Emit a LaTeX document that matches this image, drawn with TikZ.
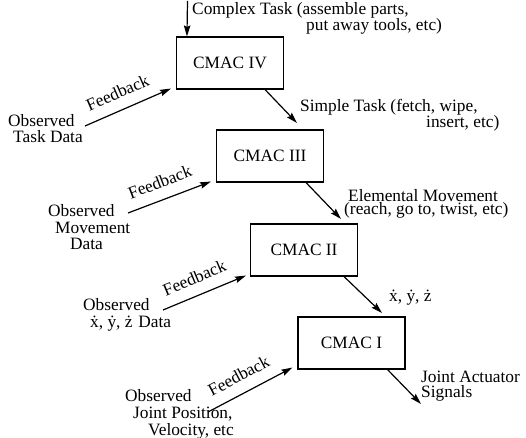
\documentclass[tikz,border=0pt]{standalone}
\usepackage{fontspec}
\setmainfont{Liberation Serif}
\usetikzlibrary{arrows.meta}
\begin{document}
\begin{tikzpicture}[x=1bp,y=-1bp,
  txt/.style={inner sep=0pt,align=left,font=\fontsize{17.4}{17}\selectfont},
  tight/.style={txt,font=\fontsize{17.4}{15}\selectfont},
  cmac/.style={draw,line width=1.1bp,minimum width=107bp,minimum height=52bp,
               inner sep=0pt,font=\fontsize{17.4}{17}\selectfont},
  arr/.style={line width=1.2bp,-{Stealth[length=11bp,width=6.5bp,inset=1.5bp]}},
  fb/.style={inner sep=0pt,font=\fontsize{17.4}{17}\selectfont,sloped,above=11bp,pos=0.46}]
\useasboundingbox (0,0) rectangle (526,438);

% controller hierarchy
\node[cmac] (iv)  at (230,63)    {CMAC IV};
\node[cmac] (iii) at (270,156)   {CMAC III};
\node[cmac] (ii)  at (304,250)   {CMAC II};
\node[cmac] (i)   at (351.5,343) {CMAC I};

% command inputs and outputs (text nodes are placed by the baseline of their last line)
\coordinate (cmdin) at (187.5,1);
\draw[arr] (cmdin) -- ([xshift=11bp]iv.north west);
\node[tight,anchor=base west] (cx) at (192,31)
  {Complex Task (assemble parts,\\\hspace*{114bp}put away tools, etc)};

\coordinate (simp) at (297,123);
\draw[arr] ([xshift=35bp]iv.south) -- (simp);
\node[tight,anchor=base west] (st) at (300,128)
  {Simple Task (fetch, wipe,\\\hspace*{126bp}insert, etc)};

\coordinate (elem) at (341,219);
\draw[arr] ([xshift=36bp]iii.south) -- (elem);
\node[txt,font=\fontsize{17.4}{14}\selectfont,anchor=base west] (em) at (344,215)
  {\hspace*{4bp}Elemental Movement\\(reach, go to, twist, etc)};

\coordinate (vel) at (382,313);
\draw[arr] ([xshift=40bp]ii.south) -- (vel);
\node[txt,anchor=base west] (xyz) at (389,301) {ẋ, ẏ, ż};

\coordinate (act) at (421,404);
\draw[arr] ([xshift=36bp]i.south) -- (act);
\node[tight,anchor=base west] (ja) at (421,397) {Joint Actuator\\Signals};

% observed data fed back into each level
\node[txt,anchor=base west] (o4) at (8,143)
  {Observed\\\hspace*{5bp}Task Data};
\coordinate (f4) at (85,126);
\draw[arr] (f4) -- ([shift={(-5,-1)}]iv.south west) node[fb] (fb4) {Feedback};

\node[txt,anchor=base west] (o3) at (48,250)
  {Observed\\\hspace*{7bp}Movement\\\hspace*{22bp}Data};
\coordinate (f3) at (128,213);
\draw[arr] (f3) -- ([shift={(-5,-1)}]iii.south west) node[fb] (fb3) {Feedback};

\node[txt,anchor=base west] (o2) at (83,327)
  {Observed\\\hspace*{7bp}ẋ, ẏ, ż\,\,Data};
\coordinate (f2) at (163,310);
\draw[arr] (f2) -- ([shift={(-4,-1)}]ii.south west) node[fb] (fb2) {Feedback};

\node[txt,anchor=base west] (o1) at (125,435)
  {Observed\\\hspace*{8bp}Joint Position,\\\hspace*{23bp}Velocity, etc};
\coordinate (f1) at (208,412);
\draw[arr] (f1) -- ([shift={(-5,-2)}]i.south west) node[fb] (fb1) {Feedback};
\end{tikzpicture}
\end{document}
